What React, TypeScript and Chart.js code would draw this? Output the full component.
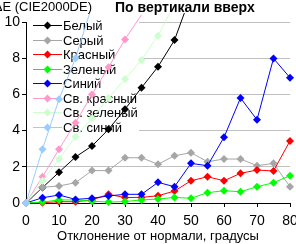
import React, { useEffect, useRef } from 'react';
import { Chart, registerables } from 'chart.js';
Chart.register(...registerables);

const XS = [0, 5, 10, 15, 20, 25, 30, 35, 40, 45, 50, 55, 60, 65, 70, 75, 80];
const WHITE = [0, 0.85, 1.7, 2.54, 3.15, 4.07, 5.18, 6.37, 7.53, 9.0, 11.5];
const GRAY = [0, 0.87, 0.94, 1.12, 1.79, 1.79, 2.5, 2.5, 2.14, 2.61, 2.78, 2.28, 2.43, 2.43, 2.06, 2.19, 0.9];
const RED = [0, 0.02, 0.07, 0.07, 0.17, 0.48, 0.3, 0.31, 0.4, 0.66, 1.23, 1.45, 1.23, 1.64, 1.82, 1.77, 3.43];
const GREEN = [0, 0.05, 0.17, 0.17, 0.1, 0.05, 0.08, 0.17, 0.22, 0.31, 0.26, 0.57, 0.68, 0.62, 0.9, 1.12, 1.51];
const BLUE = [0, 0.29, 0.44, 0.2, 0.26, 0.39, 0.48, 0.48, 1.14, 0.9, 2.19, 2.06, 3.63, 5.8, 4.6, 7.99, 6.92];
const LT_RED = [0, 1.45, 2.97, 4.44, 6.0, 7.5, 9.04, 10.4];
const LT_GREEN = [0, 1.23, 2.43, 3.66, 4.68, 5.8, 6.85, 7.9, 9.24, 10.97];
const LT_BLUE = [0, 2.97, 5.73, 8.0, 10.9];

const NAMES = ['Белый', 'Серый', 'Красный', 'Зеленый', 'Синий', 'Св. красный', 'Св. зеленый', 'Св. синий'];
const SERIES = [WHITE, GRAY, RED, GREEN, BLUE, LT_RED, LT_GREEN, LT_BLUE];
const COLORS = ['#000000', '#a6a6a6', '#ff0000', '#00ff00', '#0000ff', '#ff99cc', '#ccffcc', '#99ccff'];

const TITLE = 'По вертикали вверх';
const Y_TITLE = 'ΔE (CIE2000DE)';
const X_TITLE = 'Отклонение от нормали, градусы';
const FONT = "'Liberation Sans', Arial, sans-serif";

const legendPlugin = {
  id: 'customLegend',
  beforeDatasetsDraw(chart: any) {
    const { ctx, chartArea } = chart;
    const l = chartArea.left;
    const t = chartArea.top;
    ctx.save();
    ctx.fillStyle = '#ffffff';
    ctx.fillRect(l + 1, t - 6, 112, 121);
    ctx.font = `13px ${FONT}`;
    ctx.textAlign = 'left';
    ctx.textBaseline = 'alphabetic';
    NAMES.forEach((name, i) => {
      const y = Math.round(t + 3 + i * 14.5) + 0.5;
      ctx.strokeStyle = COLORS[i];
      ctx.lineWidth = 1;
      ctx.beginPath();
      ctx.moveTo(l + 7, y);
      ctx.lineTo(l + 36, y);
      ctx.stroke();
      ctx.fillStyle = COLORS[i];
      ctx.beginPath();
      const cx = l + 21.5;
      const r = 4;
      ctx.moveTo(cx, y - r);
      ctx.lineTo(cx + r, y);
      ctx.lineTo(cx, y + r);
      ctx.lineTo(cx - r, y);
      ctx.closePath();
      ctx.fill();
      ctx.fillStyle = '#000000';
      ctx.fillText(name, l + 37, y + 4.5);
    });
    ctx.restore();
  },
  afterDraw(chart: any) {
    const { ctx } = chart;
    ctx.save();
    ctx.fillStyle = '#000000';
    ctx.textBaseline = 'alphabetic';
    ctx.font = `bold 14px ${FONT}`;
    ctx.textAlign = 'left';
    ctx.fillText(TITLE, 115, 12);
    ctx.font = `13px ${FONT}`;
    ctx.textAlign = 'right';
    ctx.fillText(Y_TITLE, 92, 10.5);
    ctx.restore();
  },
};

export default function App() {
  const ref = useRef<HTMLCanvasElement>(null);
  useEffect(() => {
    document.body.style.margin = '0';
    const datasets = SERIES.map((vals, i) => ({
      label: NAMES[i],
      data: vals.map((v, j) => ({ x: XS[j], y: v })),
      borderColor: COLORS[i],
      backgroundColor: COLORS[i],
      borderWidth: 1,
      pointStyle: 'rectRot',
      pointRadius: 4,
      pointBorderWidth: 0,
      pointBackgroundColor: COLORS[i],
      tension: 0,
      order: -i,
      clip: { left: 6, right: 6, top: 9, bottom: 6 },
    }));
    const chart = new Chart(ref.current!, {
      type: 'line',
      data: { datasets },
      options: {
        animation: false,
        responsive: false,
        maintainAspectRatio: false,
        events: [],
        layout: { padding: { top: 22, right: 6, left: 0, bottom: 0 } },
        plugins: { legend: { display: false }, tooltip: { enabled: false }, title: { display: false } },
        scales: {
          x: {
            type: 'linear',
            min: 0,
            max: 80,
            ticks: { stepSize: 10, color: '#000', font: { family: FONT, size: 14 }, padding: 6, maxRotation: 0 },
            grid: { display: true, drawOnChartArea: false, drawTicks: true, tickLength: 4, tickColor: '#000' },
            border: { display: true, color: '#000', width: 1 },
            title: { display: true, text: X_TITLE, color: '#000', font: { family: FONT, size: 13 }, padding: { top: 0, bottom: 0 } },
            afterFit: (s: any) => { s.height = 41; s.paddingLeft = 0; s.paddingRight = 0; },
          },
          y: {
            type: 'linear',
            min: 0,
            max: 10,
            ticks: { stepSize: 1, color: '#000', font: { family: FONT, size: 14 }, padding: 2 },
            grid: { color: '#c0c0c0', lineWidth: 1, drawTicks: true, tickLength: 4, tickColor: '#000' },
            border: { display: true, color: '#000', width: 1 },
            afterFit: (s: any) => { s.width = 26; s.paddingTop = 0; s.paddingBottom = 0; },
          },
        },
      } as any,
      plugins: [legendPlugin],
    });
    return () => chart.destroy();
  }, []);
  return (
    <div style={{ width: 296, height: 244 }}>
      <canvas ref={ref} width={296} height={244} style={{ display: 'block', width: 296, height: 244 }} />
    </div>
  );
}
